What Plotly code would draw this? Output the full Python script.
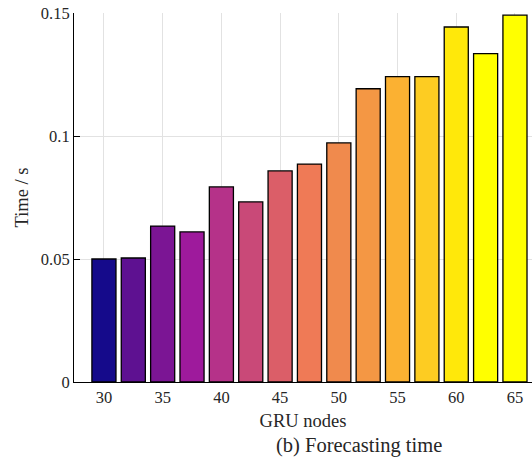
import plotly.graph_objects as go

# GRU hidden-node counts and the measured forecasting time for each
gru_nodes = [30, 32.5, 35, 37.5, 40, 42.5, 45, 47.5, 50, 52.5, 55, 57.5, 60, 62.5, 65]
forecast_time = [0.0500, 0.0504, 0.0634, 0.0610, 0.0793, 0.0732, 0.0858, 0.0886,
                 0.0972, 0.1192, 0.1241, 0.1241, 0.1443, 0.1335, 0.1491]
bar_colors = ["#150a8b", "#5e1191", "#7b1594", "#9e1a9c", "#b53289", "#c94978",
              "#db5e68", "#ef7a56", "#f08a4d", "#f49744", "#fbb132", "#fdcc22",
              "#ffe80a", "#ffff00", "#ffff00"]
x_ticks = [30, 35, 40, 45, 50, 55, 60, 65]
y_ticks = [0, 0.05, 0.1, 0.15]
y_tick_text = ["0", "0.05", "0.1", "0.15"]

FONT = "Liberation Serif"
TEXT = "#262626"

fig = go.Figure(
    go.Bar(
        x=gru_nodes,
        y=forecast_time,
        marker=dict(color=bar_colors, line=dict(color="black", width=1.3)),
        showlegend=False,
    )
)

fig.update_layout(
    width=532,
    height=458,
    margin=dict(l=74, r=0, t=13, b=76),
    paper_bgcolor="white",
    plot_bgcolor="white",
    bargap=0.18,
    font=dict(family=FONT, color=TEXT, size=16),
    xaxis=dict(
        range=[27.45, 66.45],
        tickvals=x_ticks,
        ticks="",
        showgrid=True,
        gridcolor="#e2e2e2",
        gridwidth=1,
        showline=True,
        linecolor="black",
        linewidth=1,
        zeroline=False,
        tickfont=dict(family=FONT, size=16.5, color=TEXT),
        title=dict(text="GRU nodes", font=dict(family=FONT, size=18.5, color=TEXT), standoff=8),
    ),
    yaxis=dict(
        range=[0, 0.15],
        tickvals=y_ticks,
        ticktext=y_tick_text,
        ticks="inside",
        ticklen=6,
        tickcolor="black",
        showgrid=True,
        gridcolor="#e2e2e2",
        gridwidth=1,
        showline=True,
        linecolor="black",
        linewidth=1,
        zeroline=False,
        tickfont=dict(family=FONT, size=16.5, color=TEXT),
        title=dict(text="Time / s", font=dict(family=FONT, size=18.5, color=TEXT), standoff=7),
    ),
    annotations=[
        dict(
            text="(b) Forecasting time",
            xref="paper", yref="paper",
            x=0.622, y=-0.171,
            xanchor="center", yanchor="middle",
            showarrow=False,
            font=dict(family=FONT, size=20.5, color=TEXT),
        )
    ],
)

fig.write_html("out.html")
